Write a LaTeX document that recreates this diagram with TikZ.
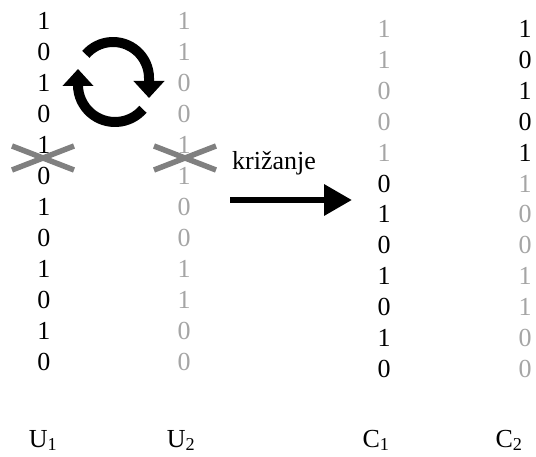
\documentclass[tikz,border=0pt]{standalone}
\usepackage{fontspec}
\setmainfont{Liberation Serif}
\usetikzlibrary{arrows.meta,calc}
\definecolor{bitgrey}{RGB}{165,165,165}
\definecolor{crossgrey}{RGB}{128,128,128}
\tikzset{
  bit/.style={inner sep=0pt, font=\fontsize{26}{30}\selectfont},
  dark/.style={bit, text=black},
  pale/.style={bit, text=bitgrey},
  tag/.style={inner sep=0pt, font=\fontsize{26}{30}\selectfont},
  cut/.style={draw=crossgrey, line width=5.5pt},
  swap/.style={line width=10pt, -{Triangle[width=30pt,length=17pt]}},
  flow/.style={line width=6.5pt, -{Triangle[width=30pt,length=28pt]}}
}
\begin{document}
\begin{tikzpicture}[x=1pt,y=-1pt]
\useasboundingbox (0,0) rectangle (536,457);
% parent U1 (black) and U2 (grey)
\foreach \b [count=\i] in {1,0,1,0,1,0,1,0,1,0,1,0}
  \node[dark] (u1-\i) at (44,{21+(\i-1)*31}) {\b};
\foreach \b [count=\i] in {1,1,0,0,1,1,0,0,1,1,0,0}
  \node[pale] (u2-\i) at (184,{21+(\i-1)*31}) {\b};
% child C1: grey head, black tail
\foreach \b/\s [count=\i] in {1/pale,1/pale,0/pale,0/pale,1/pale,0/dark,1/dark,0/dark,1/dark,0/dark,1/dark,0/dark}
  \node[\s] (c1-\i) at (384,{29+(\i-1)*30.9}) {\b};
% child C2: black head, grey tail
\foreach \b/\s [count=\i] in {1/dark,0/dark,1/dark,0/dark,1/dark,1/pale,0/pale,0/pale,1/pale,1/pale,0/pale,0/pale}
  \node[\s] (c2-\i) at (525,{29+(\i-1)*30.9}) {\b};
% crossover points
\coordinate (x1) at (43,158);
\coordinate (x2) at (185,158);
\foreach \p in {x1,x2}{
  \draw[cut] ($(\p)+(-31,-12)$) -- ($(\p)+(31,12)$);
  \draw[cut] ($(\p)+(-31,12)$) -- ($(\p)+(31,-12)$);
}
% exchange symbol (y axis points down, so angles run clockwise on the page)
\coordinate (ra) at (113,78);
\coordinate (rb) at (115,85);
\draw[swap] ($(ra)+(-139:36)$) arc[start angle=-139, end angle=0, radius=36] -- ++(0,20);
\draw[swap] ($(rb)+(41:37)$) arc[start angle=41, end angle=180, radius=37] -- ++(0,-16);
% crossover arrow
\node[tag, anchor=base west] (lbl) at (232,170) {križanje};
\coordinate (fa) at (230,200);
\coordinate (fb) at (352,200);
\draw[flow] (fa) -- (fb);
% column labels
\node[tag, anchor=base] (nu1) at (43,447) {U\textsubscript{1}};
\node[tag, anchor=base] (nu2) at (181,447) {U\textsubscript{2}};
\node[tag, anchor=base] (nc1) at (376,447) {C\textsubscript{1}};
\node[tag, anchor=base] (nc2) at (509,447) {C\textsubscript{2}};
\end{tikzpicture}
\end{document}
